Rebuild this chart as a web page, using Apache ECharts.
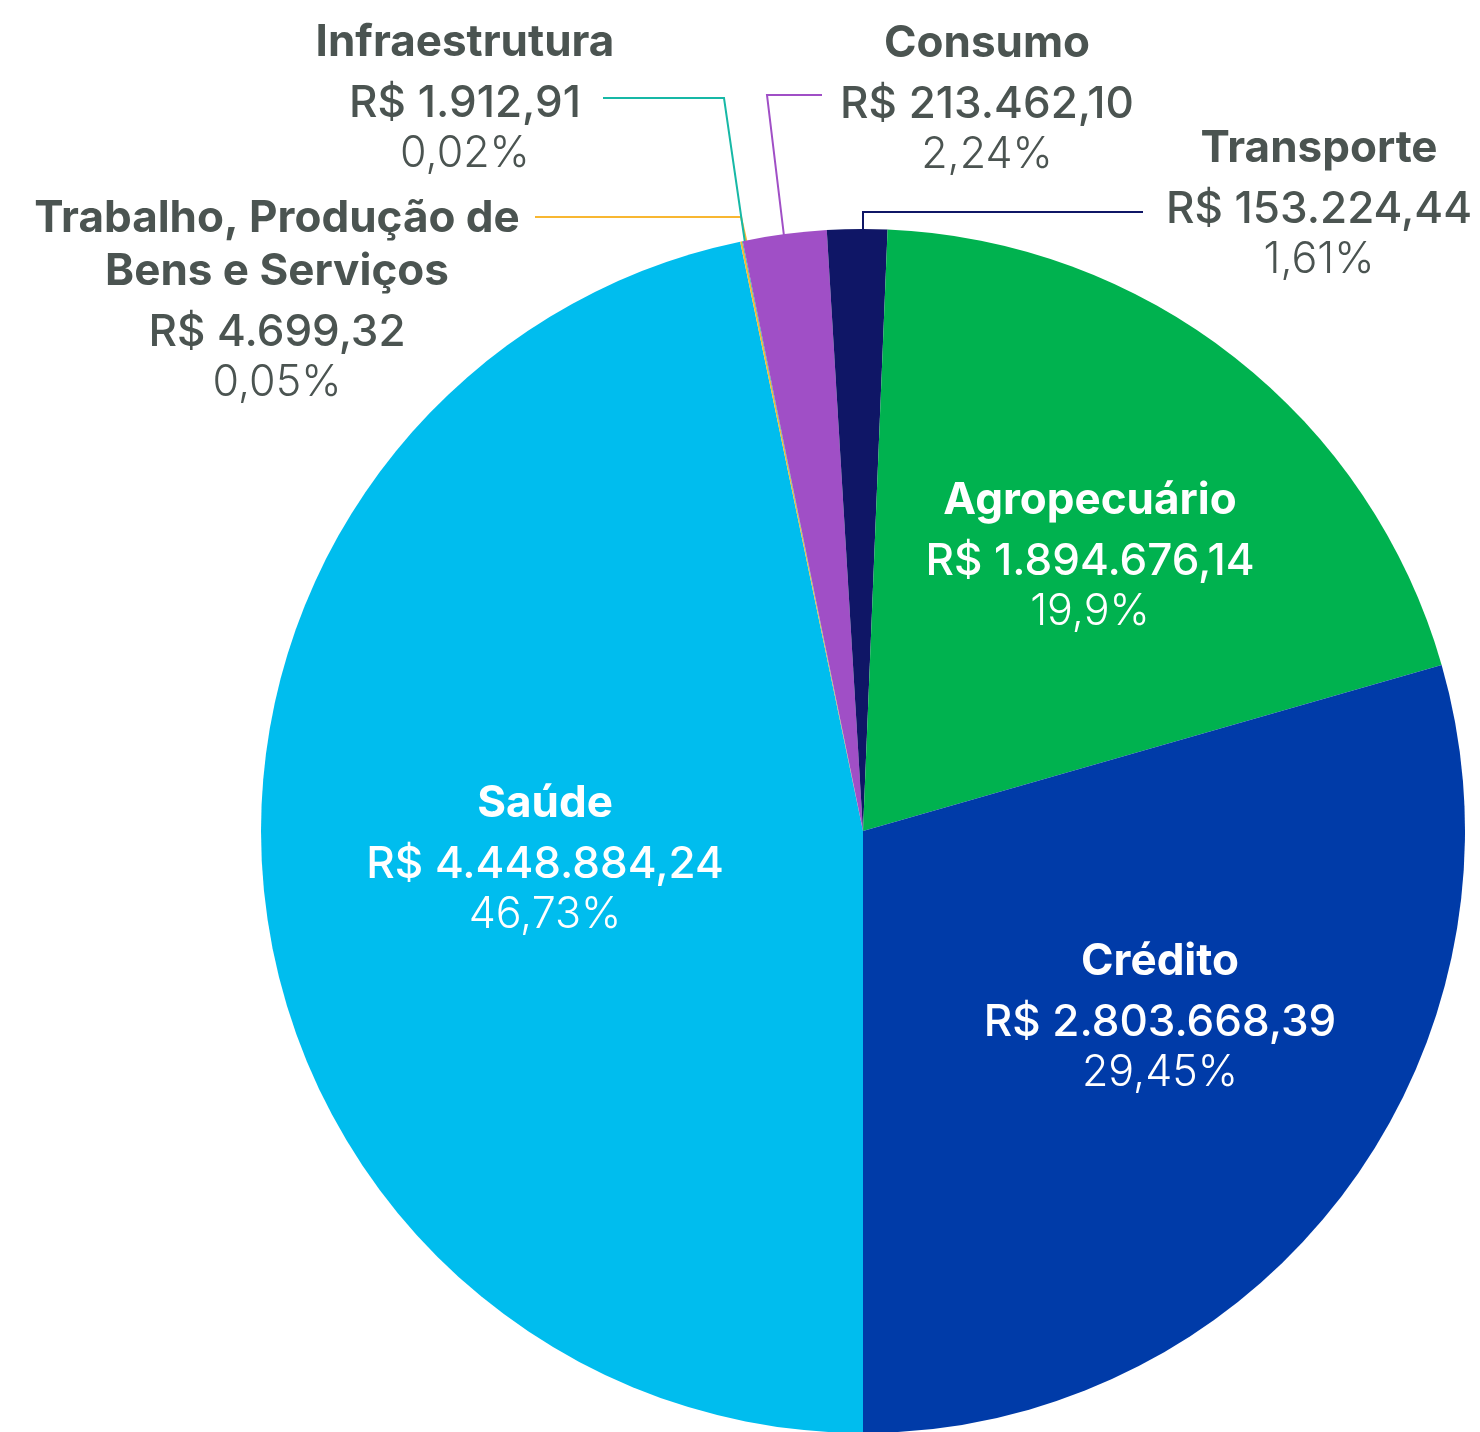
<!DOCTYPE html>
<html>
<head>
<meta charset="utf-8">
<script src="https://cdn.jsdelivr.net/npm/echarts@6/dist/echarts.min.js"></script>
<style>
  html, body { margin: 0; padding: 0; background: #fff; }
  #chart { width: 1480px; height: 1432px; }
</style>
</head>
<body>
<div id="chart"></div>
<script>
// dados
const categories = ['Saúde', 'Trabalho, Produção de\nBens e Serviços', 'Infraestrutura', 'Consumo', 'Transporte', 'Agropecuário', 'Crédito'];
const values = [4448884.24, 4699.32, 1912.91, 213462.10, 153224.44, 1894676.14, 2803668.39];
const colors = ['#00BDEE', '#F8B731', '#17B8A6', '#A04FC6', '#0F1666', '#00B24F', '#003BA8'];
const inside = [true, false, false, false, false, true, true];

// posição dos rótulos (centro x, topo y) e linhas de chamada
const labelPos = [
  [545, 772], [277, 198], [465, 11], [987, 12], [1319, 117], [1090, 469], [1160, 930]
];
const linePts = [
  null,
  [[747, 244], [741, 217], [535, 217]],
  [[745, 243], [724, 98], [603, 98]],
  [[784, 236], [767, 95], [822, 95]],
  [[863, 232], [863, 212], [1143, 212]],
  null, null
];

const total = values.reduce((a, b) => a + b, 0);

const fmtMoney = (v) => {
  const parts = v.toFixed(2).split('.');
  const int = parts[0].replace(/\B(?=(\d{3})+(?!\d))/g, '.');
  return 'R$ ' + int + ',' + parts[1];
};
const fmtPct = (v) => {
  let s = (v / total * 100).toFixed(2);
  s = s.replace(/0+$/, '').replace(/\.$/, '');
  return s.replace('.', ',') + '%';
};

const outerText = '#4B5451';
const font = 'Inter';

const data = categories.map((name, i) => {
  const inn = inside[i];
  const c = inn ? '#fff' : outerText;
  return {
    name: name,
    value: values[i],
    itemStyle: { color: colors[i] },
    label: {
      show: true,
      position: inn ? 'inside' : 'outside',
      color: c,
      align: 'center',
      rich: {
        t: { fontFamily: font, fontWeight: 700, fontSize: 44, lineHeight: 42, color: c },
        n: { fontFamily: font, fontWeight: 700, fontSize: 44, lineHeight: 64, color: c },
        v: { fontFamily: font, fontWeight: 500, fontSize: 44, lineHeight: 58, color: c },
        p: { fontFamily: font, fontWeight: 300, fontSize: 43, lineHeight: 42, color: c }
      }
    },
    labelLine: {
      show: !inn,
      lineStyle: { color: colors[i], width: 2 }
    }
  };
});

const chart = echarts.init(document.getElementById('chart'));
chart.setOption({
  backgroundColor: '#fff',
  animation: false,
  series: [{
    type: 'pie',
    center: [863, 831],
    radius: 602,
    startAngle: 270,
    clockwise: true,
    avoidLabelOverlap: false,
    data: data,
    label: {
      formatter: (p) => {
        const lines = p.name.split('\n');
        let head;
        if (lines.length > 1) {
          head = '{t|' + lines[0] + '}\n{n|' + lines[1] + '}';
        } else {
          head = '{n|' + p.name + '}';
        }
        return head + '\n{v|' + fmtMoney(p.value) + '}\n{p|' + fmtPct(p.value) + '}';
      }
    },
    labelLayout: (params) => {
      const i = params.dataIndex;
      const res = {
        x: labelPos[i][0],
        y: labelPos[i][1],
        align: 'center',
        verticalAlign: 'top'
      };
      if (linePts[i]) res.labelLinePoints = linePts[i];
      return res;
    }
  }]
});
</script>
</body>
</html>
